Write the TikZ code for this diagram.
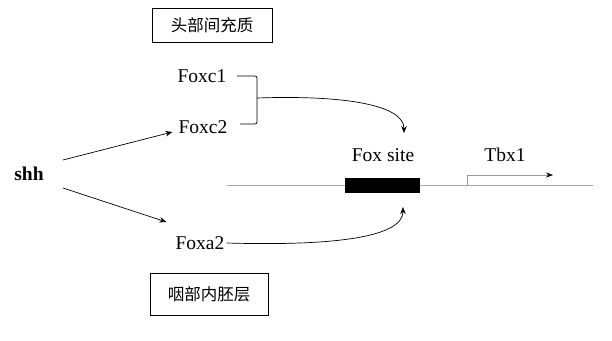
\documentclass[tikz,border=0pt]{standalone}
\usepackage{fontspec}
\setmainfont{Liberation Serif}
\newfontfamily\cjk{Noto Sans CJK SC}
\usetikzlibrary{arrows.meta,calc}
\begin{document}
\begin{tikzpicture}[x=1pt,y=-1pt,
  lbl/.style={font=\rmfamily\fontsize{19.5}{22}\selectfont, inner sep=0pt},
  tissue/.style={draw, line width=0.8pt, font=\cjk\fontsize{16.5}{19}\selectfont, inner sep=0pt},
  conn/.style={line width=0.7pt, -{Stealth[length=7pt,width=5.5pt]}},
]
\useasboundingbox (0,0) rectangle (612,340);
\node[tissue, minimum width=120pt, minimum height=34pt] (mes) at (212,25) {头部间充质};
\node[tissue, minimum width=118pt, minimum height=42pt] (endo) at (209,294) {咽部内胚层};
\node[lbl, font=\rmfamily\bfseries\fontsize{19.5}{22}\selectfont] (shh) at (29,174) {shh};
\node[lbl] (foxc1) at (202,76) {Foxc1};
\node[lbl] (foxc2) at (203,127) {Foxc2};
\node[lbl] (foxa2) at (200,243) {Foxa2};
\node[lbl] (fsl) at (383,155) {Fox site};
\node[lbl] (tbx) at (505,155) {Tbx1};
% DNA
\coordinate (dnaL) at (227,185);
\coordinate (dnaR) at (593,185);
\draw[gray!70, line width=0.5pt] (dnaL) -- (dnaR);
\node[fill=black, minimum width=75pt, minimum height=15pt, inner sep=0pt] (site) at (382,185.5) {};
% Tbx1 transcription arrow
\coordinate (tss) at (467,185);
\coordinate (tssTop) at (467,175);
\coordinate (tbxEnd) at (553,175);
\draw[gray!80, line width=0.5pt, -{Stealth[length=7pt,width=5pt,color=black]}] (tss) -- (tssTop) -- (tbxEnd);
% shh arrows
\draw[conn] ($(shh)+(34,-14)$) -- ($(foxc2.west)+(-6,5)$);
\draw[conn] ($(shh)+(34,14)$) -- ($(foxa2.west)+(-9,-21)$);
% bracket
\coordinate (brTop) at (237,76);
\coordinate (brBot) at (240,124);
\coordinate (brMid) at (257,98);
\draw[line width=0.7pt, rounded corners=2pt] (brTop) -- (257,76) -- (257,124) -- (brBot);
\coordinate (upTip) at (404,133);
\coordinate (loTip) at (403,207);
\draw[conn] (brMid) .. controls (345,95) and (404,105) .. (upTip);
\draw[conn] ($(foxa2.east)+(2,0)$) .. controls (330,246) and (403,238) .. (loTip);
\end{tikzpicture}
\end{document}
